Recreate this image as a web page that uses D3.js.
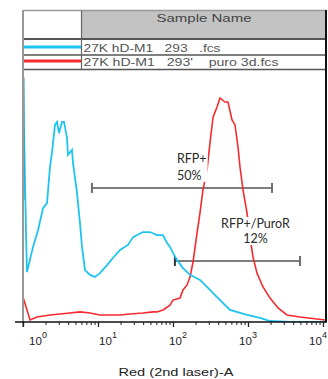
<!DOCTYPE html>
<html>
<head>
<meta charset="utf-8">
<title>RFP histogram overlay</title>
<style>
  body { margin: 0; background: #fff; }
  svg text { font-family: "Liberation Sans", Arial, sans-serif; }
  .gate-label { font-family: Lato, "Open Sans", sans-serif; font-size: 12.5px; fill: #2a2a2a; }
</style>
</head>
<body>
<svg id="chart"></svg>
<script src="https://d3js.org/d3.v7.min.js"></script>
<script>
// sample names and line colours (legend table)
const sampleNames = ["27K hD-M1   293   .fcs", "27K hD-M1   293'    puro 3d.fcs"];
const sampleColors = ["#1ec4f0", "#f52a2e"];

// histogram of the untreated sample: intensity, count (% of max)
const blueX = [1, 1.1, 1.13, 1.36, 1.59, 1.85, 2.09, 2.29, 2.44, 2.67, 2.84, 3.02, 3.31, 3.52, 3.86, 3.98, 4.5, 4.64,
  5.25, 5.75, 6.12, 6.71, 7.82, 9.12, 10.6, 13.2, 15.8, 19.7, 25.1, 29.3, 39.8, 49.4, 61.2, 73.6, 83.2, 91.2, 100,
  113, 136, 169, 229, 293, 386, 575, 970, 1445, 1966, 3631, 11000];
const blueY = [97, 33.7, 19.8, 29.8, 36.5, 45.2, 47.2, 61.5, 67.5, 78.2, 79.4, 75, 79.4, 79.4, 73, 66.3, 68.3, 63.1,
  51.2, 39.3, 29.8, 20.6, 18.7, 17.9, 19.4, 22.6, 25.4, 28.6, 30.6, 33.7, 35.7, 35.7, 34.5, 34.5, 31.3, 29.8, 27.4,
  24.6, 21.4, 18.7, 16.7, 13.5, 9.9, 4.8, 2.8, 1.6, 0.4, 0, 0];

// histogram of the puro 3d sample
const redX = [1, 1.24, 1.54, 2.29, 4.23, 5.75, 7.82, 10.6, 14.5, 19.7, 26.7, 39.8, 54.1, 61.2, 73.6, 91.2, 100, 124,
  136, 154, 169, 185, 209, 229, 251, 284, 311, 342, 386, 423, 494, 541, 612, 671, 736, 782, 858, 970, 1065, 1166,
  1318, 1585, 1966, 2512, 3311, 4937, 8318, 10634];
const redY = [9.9, 0.8, 2, 2.8, 3.6, 4, 3.6, 2.8, 2.8, 2.8, 3.2, 3.6, 4, 4, 4.8, 6.7, 8.7, 9.5,
  12.7, 14.7, 17.9, 23.8, 35.3, 43.3, 52.4, 60.3, 71, 81.3, 85.3, 88.9, 87.3, 87.3, 80.2, 78.2, 69.4, 61.5, 52.4,
  43.3, 33.7, 25.8, 19.4, 13.9, 9.5, 5.6, 2.8, 2, 1.2, 0.8];

// gates
const gateNames = ["RFP+", "RFP+/PuroR"];
const gatePcts = ["50%", "12%"];
const gateFrom = [8.3, 106];
const gateTo = [2089, 4937];
const gateLevel = [53.2, 24.2];

const tickValues = [1, 10, 100, 1000, 10000];
const xTitle = "Red (2nd laser)-A";

const width = 328, height = 379;
const pLeft = 23, pRight = 326, pTop = 70, pBottom = 322;

const svg = d3.select('#chart')
  .attr('width', width)
  .attr('height', height);

const x = d3.scaleLog().domain([1, 1e4]).range([pLeft, 323]);
const y = d3.scaleLinear().domain([0, 100]).range([pBottom, pTop]);
const labelX = d3.scaleLog().domain([1, 1e4]).range([38, 318]);

svg.append('defs').append('clipPath').attr('id', 'plotclip')
  .append('rect')
  .attr('x', pLeft).attr('y', pTop).attr('width', pRight - pLeft).attr('height', pBottom - pTop);

// ---- legend table ----
const table = svg.append('g');
table.append('rect')
  .attr('x', 82).attr('y', 11).attr('width', pRight - 82).attr('height', 27)
  .attr('fill', '#c3c3c3');
table.append('text')
  .attr('x', 204).attr('y', 22)
  .attr('text-anchor', 'middle')
  .attr('font-size', 11.5)
  .attr('fill', '#444')
  .attr('textLength', 95).attr('lengthAdjust', 'spacingAndGlyphs')
  .text('Sample Name');

[10.5, 39, 55, 69.5].forEach(yy => {
  table.append('line')
    .attr('x1', pLeft).attr('x2', pRight).attr('y1', yy).attr('y2', yy)
    .attr('stroke', yy === 10.5 ? '#999' : '#555').attr('stroke-width', yy === 39 ? 2 : 1.3);
});
table.append('line')
  .attr('x1', 81.5).attr('x2', 81.5).attr('y1', 10.5).attr('y2', 69.5)
  .attr('stroke', '#666').attr('stroke-width', 1.2);

const rowY = [47, 61];
const rowTextLen = [137, 195];
sampleNames.forEach((name, i) => {
  table.append('line')
    .attr('x1', pLeft).attr('x2', 81).attr('y1', rowY[i]).attr('y2', rowY[i])
    .attr('stroke', sampleColors[i]).attr('stroke-width', 3);
  table.append('text')
    .attr('x', 83.5).attr('y', rowY[i] + 5)
    .attr('font-size', 11.5)
    .attr('fill', '#555')
    .attr('textLength', rowTextLen[i]).attr('lengthAdjust', 'spacingAndGlyphs')
    .style('white-space', 'pre')
    .text(name);
});

// ---- gates (under the curves) ----
const gateG = svg.append('g');
gateNames.forEach((g, i) => {
  const gy = y(gateLevel[i]);
  gateG.append('line')
    .attr('x1', x(gateFrom[i])).attr('x2', x(gateTo[i])).attr('y1', gy).attr('y2', gy)
    .attr('stroke', '#7d7d7d').attr('stroke-width', 2);
  [gateFrom[i], gateTo[i]].forEach((v, k) => {
    gateG.append('line')
      .attr('x1', x(v)).attr('x2', x(v)).attr('y1', gy - 5).attr('y2', gy + 5)
      .attr('stroke', (i === 1 && k === 0) ? '#333' : '#6d6d6d').attr('stroke-width', 2);
  });
});

// ---- histograms ----
const line = d3.line()
  .x(d => x(d[0]))
  .y(d => y(d[1]));

const plot = svg.append('g').attr('clip-path', 'url(#plotclip)');
plot.append('path')
  .datum(redX.map((v, i) => [v, redY[i]]))
  .attr('d', line)
  .attr('fill', 'none')
  .attr('stroke', sampleColors[1])
  .attr('stroke-width', 1.6);
plot.append('path')
  .datum(blueX.map((v, i) => [v, blueY[i]]))
  .attr('d', line)
  .attr('fill', 'none')
  .attr('stroke', sampleColors[0])
  .attr('stroke-width', 1.8);

// ---- gate labels ----
const labelShift = [10, 18];
const labelDy = [[-25, -8], [-33, -18]];
gateNames.forEach((g, i) => {
  const cx = (x(gateFrom[i]) + x(gateTo[i])) / 2 + labelShift[i];
  const gy = y(gateLevel[i]);
  const anchor = i === 0 ? 'start' : 'middle';
  const tx = i === 0 ? cx - 15 : cx;
  const lg = svg.append('g');
  const bg = lg.append('rect').attr('fill', '#fff');
  const t1 = lg.append('text').attr('class', 'gate-label')
    .attr('x', tx).attr('y', gy + labelDy[i][0]).attr('text-anchor', anchor).text(g);
  const t2 = lg.append('text').attr('class', 'gate-label')
    .attr('x', tx).attr('y', gy + labelDy[i][1]).attr('text-anchor', anchor).text(gatePcts[i]);
  const b1 = t1.node().getBBox(), b2 = t2.node().getBBox();
  const x0 = Math.min(b1.x, b2.x), x1 = Math.max(b1.x + b1.width, b2.x + b2.width);
  bg.attr('x', x0 - 1).attr('y', b1.y + 1).attr('width', x1 - x0 + 2).attr('height', b2.y + b2.height - b1.y - 2);
});

// ---- frame ----
svg.append('line')
  .attr('x1', pLeft).attr('x2', pLeft).attr('y1', 10).attr('y2', pBottom + 5)
  .attr('stroke', '#999').attr('stroke-width', 2);
svg.append('line')
  .attr('x1', pRight).attr('x2', pRight).attr('y1', 10).attr('y2', pBottom)
  .attr('stroke', '#111').attr('stroke-width', 2);
// teal overlay of the blue count along the left edge
plot.append('line')
  .attr('x1', pLeft + 0.5).attr('x2', pLeft + 0.5).attr('y1', y(blueY[0])).attr('y2', 200)
  .attr('stroke', '#1a9fb8').attr('stroke-width', 2);

// ---- x axis ----
const minorTicks = [];
for (let d = 1; d < 1e4; d *= 10) {
  for (let m = 2; m <= 9; m++) minorTicks.push(d * m);
}
svg.append('g')
  .attr('transform', `translate(0,${pBottom})`)
  .call(d3.axisBottom(x).tickValues(minorTicks).tickSize(3).tickFormat(''))
  .call(g => g.select('.domain').remove())
  .call(g => g.selectAll('line').attr('stroke', '#222').attr('stroke-width', 1));
svg.append('g')
  .attr('transform', `translate(0,${pBottom})`)
  .call(d3.axisBottom(x).tickValues(tickValues).tickSize(5).tickFormat(''))
  .call(g => g.select('.domain').remove())
  .call(g => g.selectAll('line').attr('stroke', '#222').attr('stroke-width', 1.3));
svg.append('line')
  .attr('x1', 15).attr('x2', pRight + 1).attr('y1', pBottom).attr('y2', pBottom)
  .attr('stroke', '#111').attr('stroke-width', 1.6);

const tl = svg.append('g').selectAll('text')
  .data(tickValues)
  .join('text')
  .attr('x', d => labelX(d))
  .attr('y', 345)
  .attr('text-anchor', 'middle')
  .attr('font-size', 11.5)
  .attr('fill', '#222');
tl.append('tspan').text('10');
tl.append('tspan').attr('font-size', 9).attr('dy', -7).text(d => Math.round(Math.log10(d)));

svg.append('text')
  .attr('x', 176).attr('y', 376)
  .attr('text-anchor', 'middle')
  .attr('font-size', 11)
  .attr('fill', '#222')
  .attr('textLength', 115).attr('lengthAdjust', 'spacingAndGlyphs')
  .text(xTitle);
</script>
</body>
</html>
